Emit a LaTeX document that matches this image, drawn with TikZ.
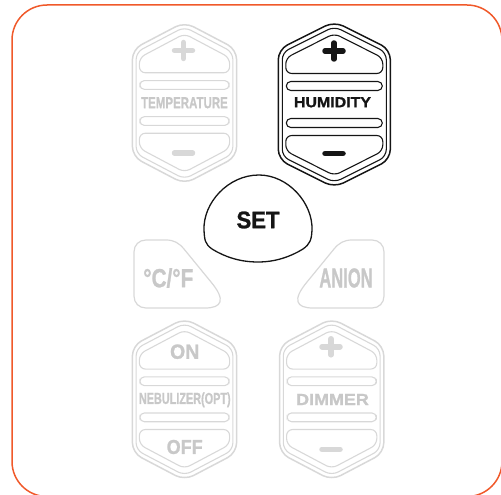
\documentclass[tikz,border=0pt]{standalone}
\usepackage{fontspec}
\setmainfont{Liberation Sans}
\newfontfamily\heavy[FakeBold=1.2]{Liberation Sans Bold}
\usepackage{graphicx}
\definecolor{frameor}{HTML}{F0592A}
\definecolor{lgray}{HTML}{D8D8D8}
\definecolor{tgray}{HTML}{C8C8C8}
\definecolor{ink}{HTML}{151515}
\newcommand\fitlbl[3]{\resizebox{#1pt}{#2pt}{\heavy #3}}
\tikzset{
  lbl/.style={inner sep=0pt, outer sep=0pt},
  pics/hexbtn/.style={code={
    \draw[line width=1.5pt, rounded corners=10pt]
      (0,-83) -- (56,-55) -- (56,55) -- (0,83) -- (-56,55) -- (-56,-55) -- cycle;
    \draw[line width=1.1pt, rounded corners=7pt]
      (0,-78) -- (52,-52) -- (52,52) -- (0,78) -- (-52,52) -- (-52,-52) -- cycle;
    \draw[line width=1.1pt, rounded corners=6pt]
      (0,-71) -- (48.5,-46.5) -- (48.5,-31) -- (-48.5,-31) -- (-48.5,-46.5) -- cycle;
    \draw[line width=1.1pt, rounded corners=6pt]
      (0,71) -- (48.5,46.5) -- (48.5,31) -- (-48.5,31) -- (-48.5,46.5) -- cycle;
    \draw[line width=1.1pt, rounded corners=4.5pt] (-48,-23) rectangle (48,-14);
    \draw[line width=1.1pt, rounded corners=4.5pt] (-48,14) rectangle (48,23);
  }},
  pics/plusminus/.style={code={
    \draw[line width=5.5pt, line cap=round] (-9,-52.5) -- (9,-52.5) (0,-60.5) -- (0,-44.5);
    \draw[line width=5.5pt, line cap=round] (-9,50) -- (9,50);
  }},
  graybtn/.style={color=lgray, xscale=0.93, yscale=0.975},
  softkey/.style={lgray, line width=1.2pt},
}
\begin{document}
\begin{tikzpicture}[x=1pt, y=-1pt]
\useasboundingbox (0,0) rectangle (501,495);
\clip (0,0) rectangle (501,495);
% frame
\draw[frameor, line width=1.5pt, rounded corners=35pt] (12,5) rectangle (502,496.5);

% top row
\pic[graybtn] (tbtn) at (184.5,103) {hexbtn};
\pic[color=lgray] (tpm) at (183.5,103) {plusminus};
\node[lbl, text=tgray] (ttxt) at (184.5,102.8) {\fitlbl{86.7}{11}{TEMPERATURE}};

\pic[color=ink] (hbtn) at (334.3,104.5) {hexbtn};
\pic[color=ink] (hpm) at (334,103.5) {plusminus};
\node[lbl, text=ink] (htxt) at (332.5,102.3) {\fitlbl{77}{10}{HUMIDITY}};

% SET
\draw[ink, line width=1.3pt] (204,230) .. controls (203,203) and (228,175) .. (259,175)
  .. controls (288,175) and (313,203) .. (312,230)
  .. controls (311.5,240) and (310,244) .. (303,249)
  .. controls (290,257) and (275,262) .. (258,262)
  .. controls (240,262) and (225,257) .. (212,249)
  .. controls (205,244) and (204.5,240) .. cycle;
\node[lbl, text=ink] (settxt) at (258,220) {\fitlbl{43}{16.7}{SET}};

% C/F and ANION
\draw[softkey] (134,296) -- (134,252) .. controls (134,245) and (139,240) .. (146,240)
  -- (166,240) .. controls (174,240) and (179,243) .. (184,249)
  -- (211,282) .. controls (226,300) and (222,308) .. (205,308)
  -- (146,308) .. controls (139,308) and (134,303) .. cycle;
\node[lbl, text=tgray] (cftxt) at (168.3,278) {\fitlbl{50}{19}{°C/°F}};
\draw[softkey] (384,296) -- (384,252) .. controls (384,245) and (379,240) .. (372,240)
  -- (352,240) .. controls (344,240) and (339,243) .. (334,249)
  -- (307,282) .. controls (292,300) and (296,308) .. (313,308)
  -- (372,308) .. controls (379,308) and (384,303) .. cycle;
\node[lbl, text=tgray] (antxt) at (346,278) {\fitlbl{53.3}{19}{ANION}};

% bottom row
\pic[graybtn] (nbtn) at (184.5,399.3) {hexbtn};
\node[lbl, text=tgray] (ontxt) at (184.7,351.7) {\fitlbl{29.3}{14.3}{ON}};
\node[lbl, text=tgray] (nebtxt) at (184.8,399.8) {\fitlbl{91.7}{11.5}{NEBULIZER(OPT)}};
\node[lbl, text=tgray] (offtxt) at (184.7,447) {\fitlbl{36}{14}{OFF}};

\pic[graybtn] (dbtn) at (331.7,399.3) {hexbtn};
\pic[color=lgray] (dpm) at (331,399.3) {plusminus};
\node[lbl, text=tgray] (dimtxt) at (332.5,399.5) {\fitlbl{72.7}{11}{DIMMER}};
\end{tikzpicture}
\end{document}
